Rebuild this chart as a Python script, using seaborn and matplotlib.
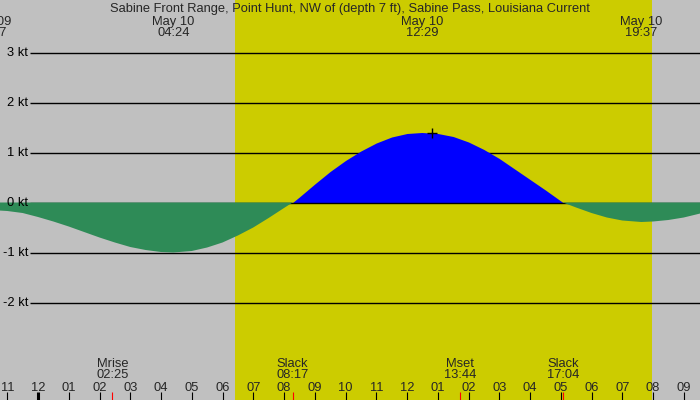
import matplotlib
matplotlib.use('Agg')
import matplotlib.pyplot as plt
import seaborn as sns
import numpy as np

TITLE = 'Sabine Front Range, Point Hunt, NW of (depth 7 ft), Sabine Pass, Louisiana Current'

# current speed: hours from midnight May 10, knots (+ flood / - ebb)
hours = [-1.55, -1.0, -0.5, 0.0, 0.5, 1.0, 1.5, 2.0, 2.5, 3.0, 3.5, 4.0, 4.4,
         5.0, 5.5, 6.0, 6.5, 7.0, 7.5, 8.0, 8.28, 8.5, 9.0, 9.5, 10.0, 10.5,
         11.0, 11.5, 12.0, 12.48, 13.0, 13.5, 14.0, 14.5, 15.0, 15.5, 16.0,
         16.5, 17.07, 17.5, 18.0, 18.5, 19.0, 19.62, 20.0, 20.5, 21.0, 21.6]
speed = [-0.15, -0.17, -0.21, -0.29, -0.38, -0.48, -0.59, -0.70, -0.80, -0.89,
         -0.95, -0.99, -1.00, -0.97, -0.90, -0.80, -0.66, -0.50, -0.31, -0.11,
         0.00, 0.11, 0.37, 0.62, 0.84, 1.03, 1.19, 1.31, 1.38, 1.40, 1.38,
         1.32, 1.21, 1.06, 0.88, 0.67, 0.46, 0.25, 0.00, -0.10, -0.21, -0.30,
         -0.36, -0.39, -0.38, -0.35, -0.30, -0.21]

# max / min current (top labels)
peak_hours = [-1.55, 4.40, 12.48, 19.62]
peak_dates = ['May 09', 'May 10', 'May 10', 'May 10']
peak_times = ['22:27', '04:24', '12:29', '19:37']

# slack water and moon events (bottom labels)
event_hours = [2.42, 8.28, 13.73, 17.07]
event_names = ['Mrise', 'Slack', 'Mset', 'Slack']
event_times = ['02:25', '08:17', '13:44', '17:04']

sunrise, sunset = 6.40, 19.97
hour_ticks = list(range(-1, 22))
kt_levels = [-2, -1, 0, 1, 2, 3]
mark_hour, mark_kt = 12.80, 1.40

sns.set_theme(style='white')
plt.rcParams['font.family'] = ['Liberation Sans', 'DejaVu Sans']
FS = 9.3

W, H = 700, 400
fig = plt.figure(figsize=(7, 4), dpi=100)
fig.patch.set_facecolor('#c0c0c0')
ax = fig.add_axes([0, 0, 1, 1])
ax.set_facecolor('#c0c0c0')

# pixel mapping: midnight at x=38, 30.75 px / hour ; 0 kt at y=202.5, 50 px / kt
x0, pph = 38, 30.75
ax.set_xlim(-x0 / pph, (W - x0) / pph)
ax.set_ylim(-(H - 202.5) / 50, 202.5 / 50)
for s in ax.spines.values():
    s.set_visible(False)
ax.set_xticks([])
ax.set_yticks([])

def px_x(px):
    return (px - x0) / pph

def frac_y(py):
    return 1 - py / H

ax.axvspan(sunrise, sunset, color='#cccc00', lw=0, zorder=0)

t = np.array(hours)
v = np.array(speed)

# grid
for lv in kt_levels:
    ax.hlines(lv, px_x(30), ax.get_xlim()[1], color='black', lw=1.0,
              zorder=3 if lv == 0 else 1)
    ax.text(px_x(28), lv - 0.08, f'{lv} kt', ha='right', va='baseline',
            fontsize=FS, color='black', zorder=10)

ax.fill_between(t, v, 0, where=v >= 0, interpolate=True, color='#0000ff',
                lw=0, zorder=2)
ax.fill_between(t, v, 0, where=v <= 0, interpolate=True, color='#2e8b57',
                lw=0, zorder=4)

sns.scatterplot(x=[mark_hour], y=[mark_kt], marker='+', s=45, color='black',
                linewidth=1, ax=ax, zorder=5)

tr = ax.get_xaxis_transform()
ax.text(0.5, frac_y(12), TITLE, transform=ax.transAxes, ha='center',
        va='baseline', fontsize=FS)
for h, d, tm in zip(peak_hours, peak_dates, peak_times):
    ax.text(h, frac_y(25), d, transform=tr, ha='center', va='baseline', fontsize=FS)
    ax.text(h, frac_y(36), tm, transform=tr, ha='center', va='baseline', fontsize=FS)

for h, n, tm in zip(event_hours, event_names, event_times):
    ax.text(h, frac_y(366.7), n, transform=tr, ha='center', va='baseline', fontsize=FS)
    ax.text(h, frac_y(378.3), tm, transform=tr, ha='center', va='baseline', fontsize=FS)

# hour ticks along the bottom
for h in hour_ticks:
    lab = f'{h % 12 or 12:02d}'
    ax.text(h, frac_y(390.7), lab, transform=tr, ha='center', va='baseline',
            fontsize=FS)
    ax.vlines(h, frac_y(400), frac_y(392), transform=tr, color='black',
              lw=2.2 if h == 0 else 0.8, zorder=6)
ax.vlines(event_hours, frac_y(400), frac_y(392), transform=tr, color='red',
          lw=0.8, zorder=7)

fig.savefig('out.png', dpi=100, facecolor=fig.get_facecolor())
